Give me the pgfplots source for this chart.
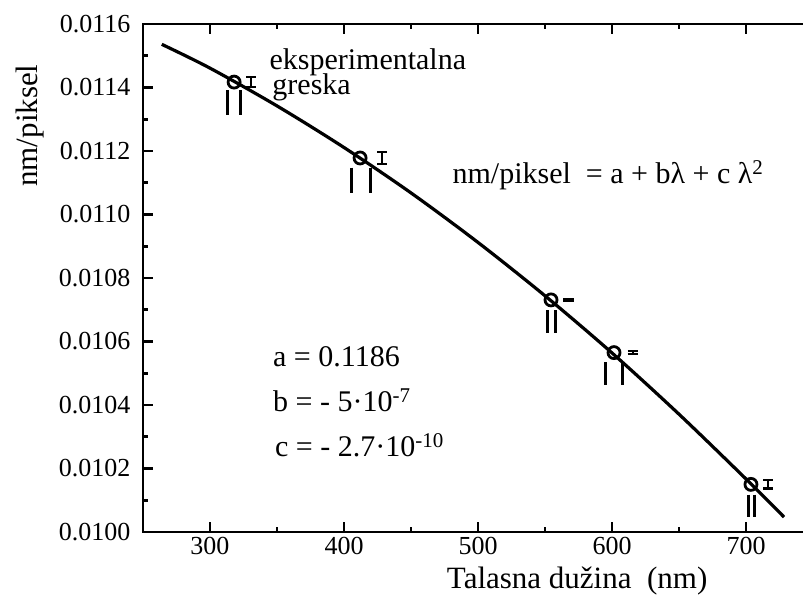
\documentclass[border=0pt]{standalone}
\usepackage{fontspec}
\setmainfont{Liberation Serif}
\usepackage{pgfplots}
\pgfplotsset{compat=1.18}
\begin{document}
\begin{tikzpicture}
\useasboundingbox (-143bp,-73bp) rectangle (660bp,532bp);
\clip (-143bp,-73bp) rectangle (660bp,532bp);
\begin{axis}[
  at={(0,0)}, anchor=south west,
  width=670bp, height=508bp, scale only axis,
  xmin=250, xmax=750, ymin=0.0100, ymax=0.0116,
  xtick={300,400,500,600,700},
  ytick={0.0100,0.0102,0.0104,0.0106,0.0108,0.0110,0.0112,0.0114,0.0116},
  minor x tick num=1, minor y tick num=1,
  major tick length=10bp, minor tick length=5bp,
  axis line style={line width=2.8bp},
  every tick/.style={black, line width=2.8bp},
  tick label style={font=\fontsize{26bp}{30bp}\selectfont},
  /pgf/number format/assume math mode=true,
  yticklabel style={xshift=-9bp, /pgf/number format/.cd, fixed, fixed zerofill, precision=4},
  xticklabel style={yshift=-2bp},
  scaled y ticks=false,
  xlabel={Talasna dužina\ \ (nm)},
  ylabel={nm/piksel},
  label style={font=\fontsize{31bp}{36bp}\selectfont},
  xlabel style={at={(ticklabel cs:0.648)}, anchor=near ticklabel, yshift=-5bp},
  ylabel style={at={(axis description cs:-0.168,0.80)}, anchor=center},
  clip=false,
]
% fitted curve
\addplot[black, line width=3.2bp, smooth] coordinates {
  (264,0.011536) (300,0.011461) (350,0.011342) (400,0.011211)
  (450,0.011068) (500,0.010912) (550,0.010744) (600,0.010564)
  (650,0.010371) (700,0.010167) (728.4,0.010047)};
% double vertical marks below the points
\addplot[black, line width=3bp, unbounded coords=jump] coordinates {
  (312.7,0.011392) (312.7,0.011313) (312.7,nan)
  (322.4,0.011392) (322.4,0.011313) (322.4,nan)
  (405.5,0.011148) (405.5,0.011069) (405.5,nan)
  (420.0,0.011148) (420.0,0.011069) (420.0,nan)
  (551.5,0.010699) (551.5,0.010627) (551.5,nan)
  (557.5,0.010699) (557.5,0.010627) (557.5,nan)
  (594.8,0.010535) (594.8,0.010462) (594.8,nan)
  (608.2,0.010535) (608.2,0.010462) (608.2,nan)
  (701.5,0.010118) (701.5,0.010046) (701.5,nan)
  (706.7,0.010118) (706.7,0.010046)};
% experimental error glyphs (I-shaped bars to the right of each point)
\addplot[black, line width=2.2bp, unbounded coords=jump] coordinates {
  (330.6,0.011433) (330.6,0.011401) (330.6,nan)
  (326.9,0.011433) (334.3,0.011433) (334.3,nan)
  (326.9,0.011401) (334.3,0.011401) (334.3,nan)
  (428.5,0.011197) (428.5,0.011159) (428.5,nan)
  (424.8,0.011197) (432.2,0.011197) (432.2,nan)
  (424.8,0.011159) (432.2,0.011159) (432.2,nan)
  (563.5,0.010733) (571.5,0.010733) (571.5,nan)
  (563.5,0.010729) (571.5,0.010729) (571.5,nan)
  (611.7,0.010570) (619.7,0.010570) (619.7,nan)
  (611.7,0.010560) (619.7,0.010560) (619.7,nan)
  (615.7,0.010570) (615.7,0.010560) (615.7,nan)
  (716.4,0.010163) (716.4,0.010137) (716.4,nan)
  (712.7,0.010163) (720.1,0.010163) (720.1,nan)
  (712.7,0.010137) (720.1,0.010137)};
% data points
\addplot[black, only marks, mark=o, mark size=6bp,
  mark options={line width=2.8bp, fill=white}] coordinates {
  (318,0.011417) (412,0.011178) (554.5,0.010731) (601.5,0.010565) (703.7,0.010150)};
% annotations
\node[anchor=west, font=\fontsize{30bp}{34bp}\selectfont] at (axis cs:341.8,0.011480) {eksperimentalna};
\node[anchor=west, font=\fontsize{30bp}{34bp}\selectfont] at (axis cs:344,0.011400) {greska};
\node[anchor=west, font=\fontsize{30bp}{34bp}\selectfont] at (axis cs:478.4,0.011124) {nm/piksel\ \ = a + bλ + c λ\textsuperscript{2}};
\node[anchor=west, font=\fontsize{30bp}{34bp}\selectfont] at (axis cs:344.5,0.010551) {a = 0.1186};
\node[anchor=west, font=\fontsize{30bp}{34bp}\selectfont] at (axis cs:344.5,0.010416) {b = - 5·10\textsuperscript{-7}};
\node[anchor=west, font=\fontsize{30bp}{34bp}\selectfont] at (axis cs:346,0.010274) {c = - 2.7·10\textsuperscript{-10}};
\end{axis}
\end{tikzpicture}
\end{document}
